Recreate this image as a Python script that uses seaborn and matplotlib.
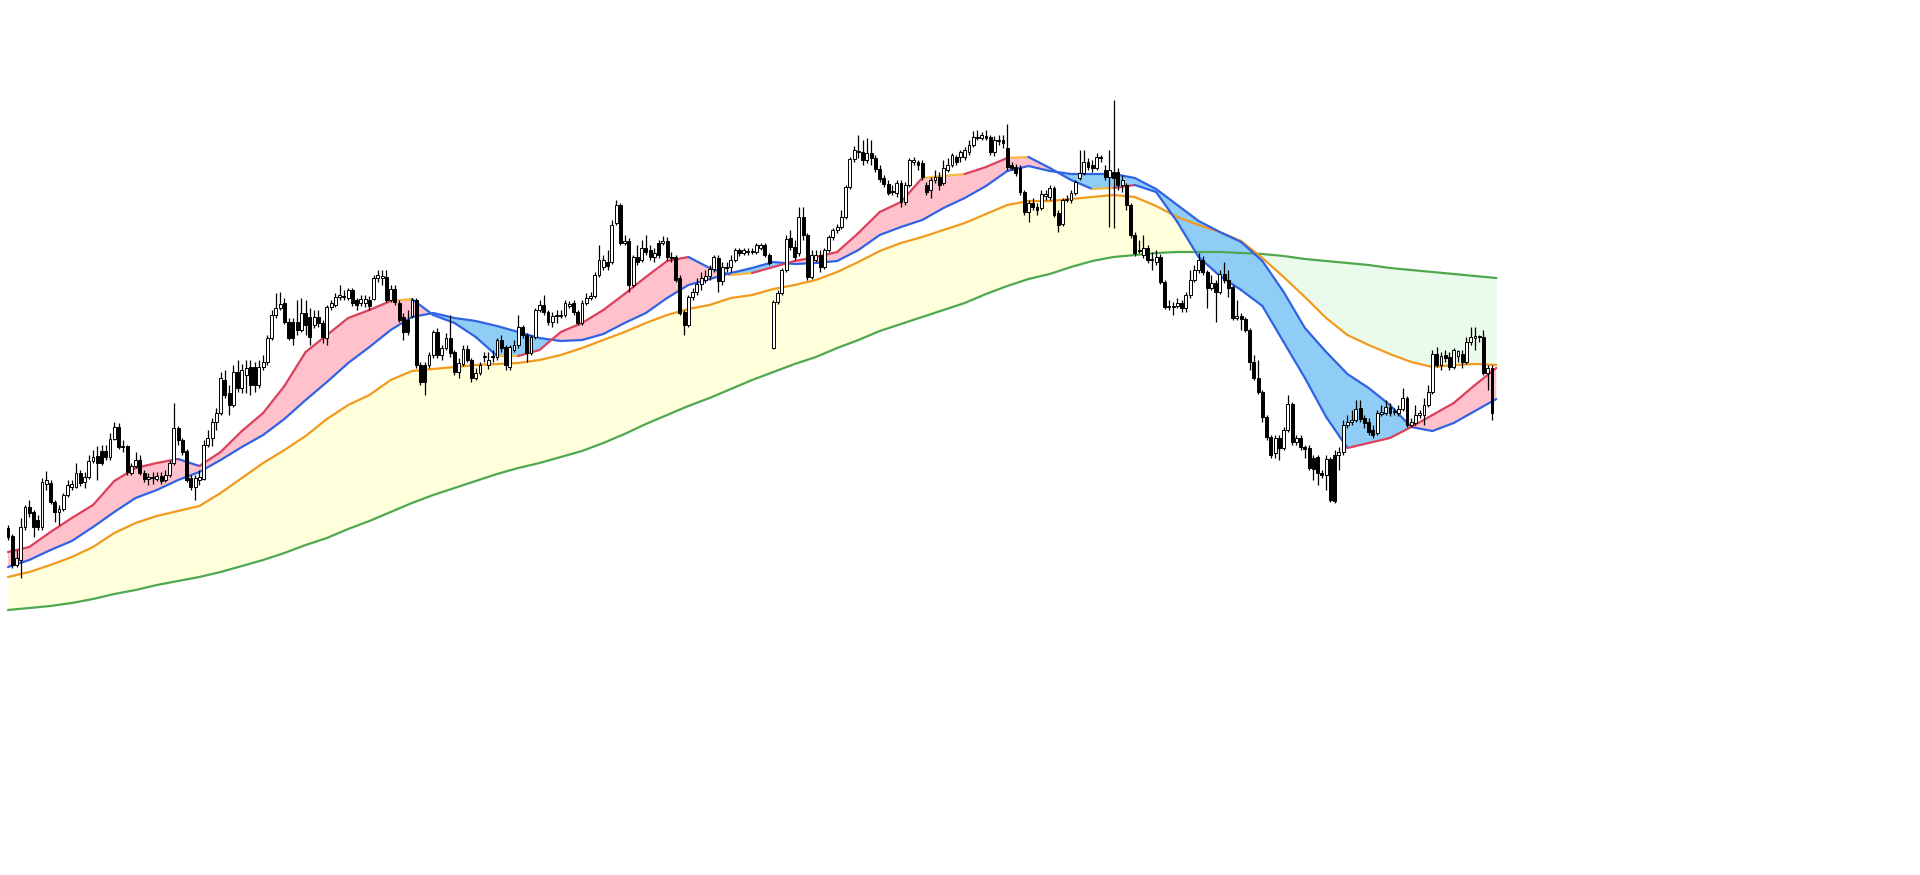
import numpy as np
import matplotlib
matplotlib.use("Agg")
import matplotlib.pyplot as plt
from matplotlib.collections import LineCollection
import seaborn as sns

# ---------------- data ----------------
open_ = [
    472,464,435,440,473,493,488,480,473,516,
    517,498,488,491,505,513,513,527,518,523,
    539,544,549,549,543,561,573,554,554,527,
    534,540,527,521,523,521,524,520,525,537,
    572,560,549,522,513,520,521,555,562,578,
    587,620,607,595,628,612,625,633,633,615,
    633,638,662,685,692,697,678,678,678,670,
    687,683,675,683,677,662,693,695,703,704,
    702,710,700,697,697,700,701,722,722,723,
    700,711,697,683,680,684,700,635,635,635,
    645,668,645,652,662,648,628,636,651,640,
    622,627,643,635,644,643,660,653,633,650,
    655,673,665,647,663,690,695,688,678,684,
    684,685,694,697,688,677,697,702,704,725,
    733,738,738,777,795,757,759,715,743,740,
    752,750,743,757,757,759,743,743,722,688,
    675,703,708,716,720,724,731,742,719,733,
    733,740,750,747,748,748,748,752,755,745,
    652,698,707,730,762,753,747,783,765,723,
    740,745,733,750,763,770,773,783,813,841,
    848,848,840,847,842,831,822,816,808,807,
    817,798,815,838,838,837,815,810,820,823,
    817,830,835,843,843,843,848,855,863,862,
    864,863,848,859,860,852,835,833,832,808,
    788,797,793,792,804,803,812,787,776,800,
    800,807,822,827,838,835,832,842,830,823,
    828,828,815,815,795,765,750,745,752,740,
    738,743,718,693,693,694,697,692,705,720,
    730,740,728,712,717,708,726,720,713,682,
    684,681,670,638,622,608,583,563,547,562,
    552,570,596,558,562,553,552,542,543,527,
    525,541,545,545,548,575,578,580,592,582,
    578,570,567,586,587,593,588,587,591,602,
    575,577,585,585,595,608,646,635,645,643,
    633,644,646,638,658,662,663,663,627,632,
]
close = [
    463,435,442,473,493,487,473,473,518,520,
    498,488,491,505,515,516,527,517,523,539,
    543,537,537,543,561,573,553,553,528,534,
    540,527,521,523,522,524,519,525,537,572,
    560,548,520,513,522,523,555,562,578,587,
    622,605,595,628,612,630,632,615,615,633,
    638,662,685,692,696,678,662,662,670,687,
    675,663,683,677,663,693,697,703,705,703,
    710,697,695,701,701,694,722,725,724,700,
    711,698,680,668,668,700,635,618,618,645,
    668,645,652,662,647,628,637,651,640,622,
    627,635,644,640,643,660,652,635,653,655,
    673,665,647,663,690,695,688,678,684,685,
    685,697,696,688,677,697,702,704,725,740,
    740,734,775,795,757,759,715,743,738,752,
    748,743,747,745,759,743,742,720,687,675,
    703,708,716,722,724,731,743,719,733,732,
    740,750,747,750,749,749,755,755,745,737,
    698,707,730,761,753,743,783,765,723,745,
    745,733,750,763,770,773,783,813,841,850,
    849,840,847,842,831,821,816,807,809,817,
    798,815,840,840,835,823,808,820,823,815,
    832,835,845,838,848,850,855,863,862,865,
    862,848,860,860,857,833,832,827,808,788,
    797,793,790,806,806,812,785,775,800,801,
    807,818,827,838,833,832,843,843,823,830,
    822,815,820,795,765,747,749,752,740,741,
    743,718,693,694,694,697,692,705,720,730,
    740,728,712,717,708,726,720,712,682,684,
    681,670,638,622,608,583,563,545,562,552,
    570,596,558,562,553,551,532,531,527,525,
    541,500,499,548,575,578,580,591,581,577,
    568,565,587,588,593,587,589,591,602,575,
    578,585,587,595,608,646,635,644,642,633,
    650,649,638,658,663,664,664,627,632,587,
]
high = [
    475,466,450,482,495,500,490,485,522,529,
    520,500,495,507,520,520,537,530,528,545,
    550,554,555,555,567,578,577,560,555,537,
    548,545,530,527,528,528,528,530,540,597,
    574,562,551,525,525,530,560,570,582,592,
    628,630,615,635,640,636,640,640,638,640,
    645,665,690,707,708,702,682,682,700,702,
    700,692,690,690,680,695,700,707,715,710,
    712,712,702,705,705,704,725,730,730,730,
    715,715,700,687,690,702,702,638,638,648,
    670,672,655,667,685,650,642,655,655,642,
    632,638,648,648,650,662,665,655,655,660,
    685,675,667,665,692,700,705,690,688,690,
    690,700,699,700,690,700,707,708,728,755,
    745,750,780,800,797,765,762,745,755,760,
    765,755,752,760,764,763,748,745,725,690,
    705,712,722,728,730,735,745,745,738,738,
    745,752,752,752,752,752,757,757,757,747,
    700,710,732,765,770,760,793,793,767,750,
    750,750,752,765,772,776,790,815,843,854,
    865,860,862,860,845,835,825,820,815,820,
    820,818,842,843,840,840,818,823,830,828,
    840,842,847,845,850,853,860,869,870,868,
    870,865,864,865,865,876,838,836,835,810,
    800,802,797,810,810,815,814,790,802,805,
    810,820,850,850,842,840,847,845,835,850,
    900,832,825,817,797,768,760,765,755,748,
    750,746,720,700,698,702,700,708,730,735,
    747,744,730,725,720,730,738,730,715,700,
    687,683,672,645,640,610,585,565,565,565,
    573,605,598,565,565,555,555,545,545,530,
    545,543,550,553,580,585,590,600,600,585,
    582,575,590,595,600,597,592,595,612,604,
    582,595,590,602,615,650,653,648,650,648,
    652,650,650,663,673,673,665,670,635,635,
]
low = [
    460,432,433,422,470,483,463,470,470,510,
    496,478,475,489,503,510,512,514,512,521,
    537,520,535,540,540,560,551,548,525,525,
    532,525,518,515,516,519,516,518,523,535,
    555,545,518,510,500,515,520,553,554,570,
    585,602,585,593,608,607,607,605,608,612,
    630,635,660,682,690,676,660,655,665,668,
    665,655,672,673,657,655,690,693,700,700,
    700,694,690,694,693,690,700,718,715,698,
    698,695,678,660,665,682,632,615,605,632,
    642,642,640,650,643,625,622,634,638,618,
    620,625,638,631,638,640,648,630,630,648,
    652,662,638,645,661,688,685,675,673,677,
    682,683,692,685,675,675,695,700,702,723,
    730,730,736,775,755,755,708,713,735,738,
    745,740,738,742,755,740,738,718,685,665,
    673,700,705,710,717,720,728,708,715,728,
    728,738,744,745,745,746,746,750,743,735,
    651,696,705,728,750,740,744,760,720,721,
    738,728,731,748,760,767,771,781,811,838,
    842,835,837,835,828,818,813,805,805,803,
    793,795,813,835,830,820,805,802,817,810,
    815,828,833,835,838,840,845,853,860,860,
    860,845,844,855,852,830,830,824,805,785,
    778,790,785,790,800,800,783,768,774,798,
    797,805,820,825,830,828,830,838,820,773,
    772,810,808,790,762,744,747,742,737,730,
    735,716,691,690,685,692,688,688,702,718,
    727,725,692,710,678,706,717,703,680,680,
    670,668,630,620,606,578,560,542,542,540,
    550,568,555,555,550,542,530,520,515,522,
    510,498,497,530,545,572,575,578,578,572,
    565,562,565,584,585,584,585,584,589,573,
    573,575,582,575,593,606,633,630,638,630,
    631,638,632,636,655,650,658,625,610,580,
]

# moving averages, sampled every 5 candles
ma_fast = [
    448,453,468,482,495,519,532,537,541,534,
    548,569,587,614,648,665,682,690,699,701,
    685,677,663,644,644,650,668,677,690,706,
    723,739,743,732,725,727,733,739,743,748,
    767,788,798,822,824,826,833,842,843,832,
    820,811,812,815,808,778,743,724,710,694,
    658,622,583,552,557,562,573,585,597,615,
    632,
]
ma_slow = [
    433,440,450,459,473,488,502,510,520,528,
    540,553,565,581,600,618,637,653,670,683,
    687,682,679,674,668,662,659,660,666,677,
    687,702,715,721,727,732,738,736,737,739,
    750,765,773,780,792,802,814,829,834,829,
    826,826,826,822,811,795,779,768,758,739,
    708,672,648,626,612,595,573,569,577,589,
    601,
]
ma_mid = [
    423,428,435,443,453,467,477,484,489,494,
    507,522,537,550,564,581,595,605,620,629,
    631,633,635,636,637,640,645,652,660,668,
    677,685,691,695,702,705,711,715,720,728,
    738,749,757,763,770,777,786,795,799,799,
    801,803,805,803,794,783,775,768,759,742,
    723,703,682,665,655,646,638,633,635,636,
    635,
]
ma_long = [
    390,392,394,397,401,406,410,415,419,423,
    428,434,440,447,455,462,471,479,488,497,
    505,512,519,526,532,537,543,549,557,566,
    576,585,594,602,611,620,628,636,643,652,
    660,669,676,683,690,697,706,714,721,726,
    733,739,743,745,747,748,748,748,747,746,
    744,741,739,737,735,732,730,728,726,724,
    722,
]

# ---------------- styling ----------------
C_RED = "#DE3F5A"
C_BLUE = "#2F63E3"
C_GOLD = "#F5B942"
C_ORANGE = "#F29A1D"
C_GREEN = "#4FA84F"
F_PINK = "#FFC2CC"
F_LBLUE = "#8FCDF7"
F_YELLOW = "#FFFFDC"
F_LGREEN = "#EBFBEB"

sns.set_theme(style="white")
plt.rcParams["font.family"] = ["DejaVu Sans"]

fig = plt.figure(figsize=(19.2, 8.75), dpi=100)
ax = fig.add_axes([0, 0, 1, 1])
ax.set_axis_off()
fig.patch.set_facecolor("white")

o = np.array(open_, float)
c = np.array(close, float)
h = np.array(high, float)
l = np.array(low, float)
n = len(c)
idx = np.arange(n)

fast = np.array(ma_fast, float)
slow = np.array(ma_slow, float)
mid = np.array(ma_mid, float)
lng = np.array(ma_long, float)
xs = np.arange(len(fast)) * 5

# clouds
ax.fill_between(xs, mid, lng, where=mid >= lng, interpolate=True,
                color=F_YELLOW, lw=0, zorder=1)
ax.fill_between(xs, mid, lng, where=mid < lng, interpolate=True,
                color=F_LGREEN, lw=0, zorder=1)
ax.fill_between(xs, fast, slow, where=fast >= slow, interpolate=True,
                color=F_PINK, lw=0, zorder=2)
ax.fill_between(xs, fast, slow, where=fast < slow, interpolate=True,
                color=F_LBLUE, lw=0, zorder=2)

# lines
sns.lineplot(x=xs, y=lng, color=C_GREEN, linewidth=1.6, ax=ax, zorder=3)
sns.lineplot(x=xs, y=mid, color=C_ORANGE, linewidth=1.6, ax=ax, zorder=3)
sns.lineplot(x=xs, y=slow, color=C_BLUE, linewidth=1.6, ax=ax, zorder=3)

d = np.diff(fast)
seg_colors = [C_RED if v > 2 else (C_BLUE if v < -2 else C_GOLD) for v in d]
pts = np.column_stack([xs, fast]).reshape(-1, 1, 2)
segs = np.concatenate([pts[:-1], pts[1:]], axis=1)
ax.add_collection(LineCollection(segs, colors=seg_colors, linewidths=1.6,
                                 zorder=4, capstyle="round"))

# candles
ax.vlines(idx, l, h, color="black", linewidth=0.9, zorder=5)
up = c >= o
bottom = np.minimum(o, c)
height = np.maximum(np.abs(c - o), 0.9)
faces = ["white" if u else "black" for u in up]
ax.bar(idx, height, bottom=bottom, width=0.68, color=faces,
       edgecolor="black", linewidth=0.7, zorder=6)

step = (1492 - 8) / (n - 1)
left = -8 / step
ax.set_xlim(left, left + 1920 / step)
ax.set_ylim(125, 1000)

fig.savefig("out.png", dpi=100, facecolor="white")
